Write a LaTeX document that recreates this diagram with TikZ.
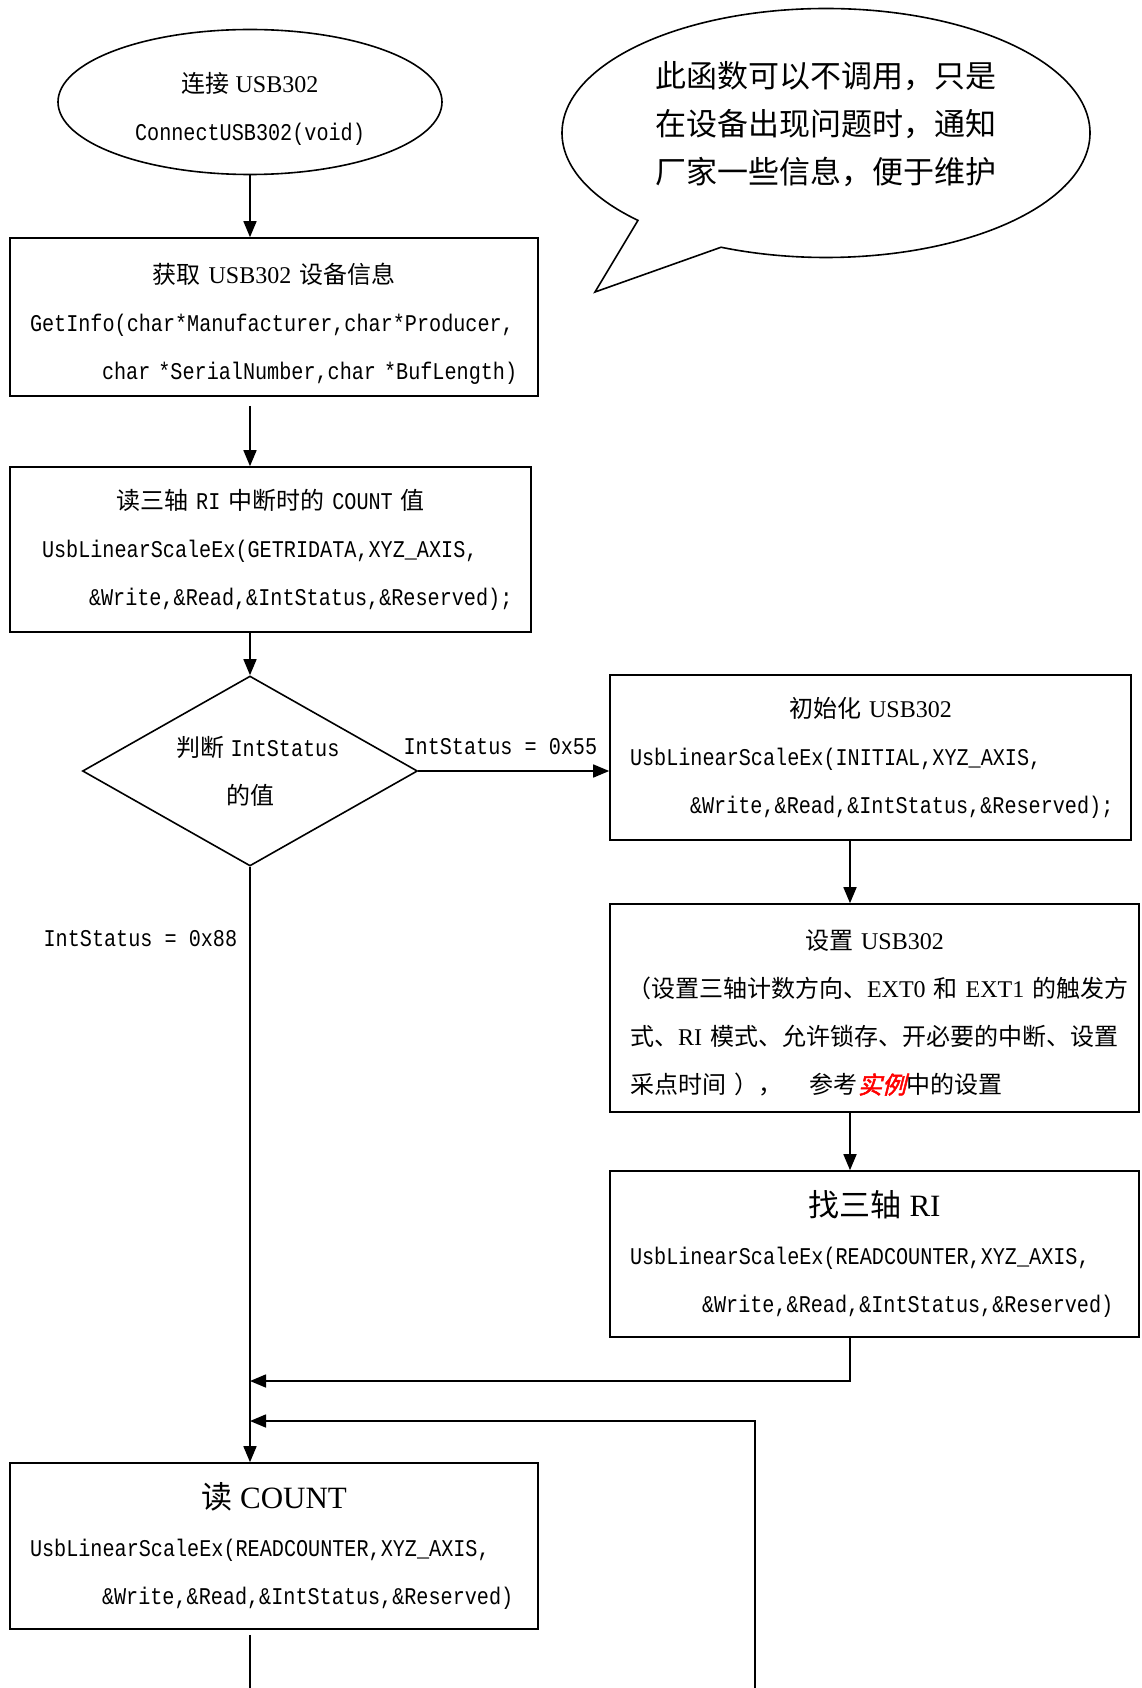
\documentclass[tikz,border=0pt]{standalone}
\usepackage{fontspec}
\setmainfont{Liberation Serif}
\newfontfamily\cjk{Noto Sans CJK SC}
\newfontfamily\cjkem[FakeSlant=0.25,FakeBold=2]{Noto Sans CJK SC}
\newfontfamily\code[FakeStretch=0.84]{Liberation Mono}
\usetikzlibrary{arrows.meta,shapes.geometric,shapes.callouts}
\newcommand{\zhtext}[1]{{\cjk #1}}
\newcommand{\codetext}[1]{{\code #1}}
\begin{document}
\begin{tikzpicture}[x=1pt, y=1pt, line width=1.6pt,
        >={Triangle[length=16pt,width=13pt]},
        every node/.style={font=\fontsize{24pt}{48pt}\selectfont},
        proc/.style={draw, rectangle, inner sep=0pt, align=left, text width=#1},
        term/.style={draw, ellipse, inner sep=0pt, align=center},
        cond/.style={draw, diamond, aspect=1.76, inner sep=0pt, align=center},
        lbl/.style={font=\fontsize{24pt}{24pt}\selectfont\code, inner sep=2pt}]
    \useasboundingbox (0,0) rectangle (1141,-1688);
    \node[term, minimum width=384pt, minimum height=145pt] (C) at (250,-102) {\rule{0pt}{34pt}\zhtext{连接} USB302\\\codetext{ConnectUSB302(void)}};
    \node[draw, ellipse callout, inner sep=0pt, minimum width=528pt, minimum height=249pt,
        callout absolute pointer={(595,-292)}, callout pointer arc=22, align=left, text depth=21pt,
        font=\fontsize{31pt}{48pt}\selectfont\cjk] (N) at (826,-133) {此函数可以不调用，只是\\在设备出现问题时，通知\\厂家一些信息，便于维护};
    \node[proc=528pt, minimum height=158pt] (G) at (274,-317) {\makebox[\linewidth]{\rule{0pt}{34pt}\zhtext{获取} USB302 \zhtext{设备信息}}\\
        \hspace*{20pt}\codetext{GetInfo(char*Manufacturer,char*Producer,}\\
        \hspace*{92pt}\codetext{char *SerialNumber,char *BufLength)}};
    \node[proc=521pt, minimum height=165pt] (R) at (270.5,-549.5) {\makebox[\linewidth]{\zhtext{读三轴} \codetext{RI} \zhtext{中断时的} \codetext{COUNT} \zhtext{值}}\\
        \hspace*{32pt}\codetext{UsbLinearScaleEx(GETRIDATA,XYZ\_AXIS,}\\
        \hspace*{79pt}\codetext{\&Write,\&Read,\&IntStatus,\&Reserved);}};
    \node[cond, minimum width=335pt, minimum height=190pt] (D) at (250,-771) {\hspace*{16pt}\zhtext{判断} \codetext{IntStatus}\\\zhtext{的值}};
    \node[proc=521pt, minimum height=165pt] (I) at (870.5,-757.5) {\makebox[\linewidth]{\zhtext{初始化} USB302}\\
        \hspace*{20pt}\codetext{UsbLinearScaleEx(INITIAL,XYZ\_AXIS,}\\
        \hspace*{80pt}\codetext{\&Write,\&Read,\&IntStatus,\&Reserved);}};
    \node[proc=529pt, minimum height=208pt] (S) at (874.5,-1008) {\makebox[\linewidth]{\rule{0pt}{30pt}\zhtext{设置} USB302}\\
        \hspace*{17pt}\zhtext{（设置三轴计数方向、}EXT0 \zhtext{和} EXT1 \zhtext{的触发方}\\
        \hspace*{20pt}\zhtext{式、}RI \zhtext{模式、允许锁存、开必要的中断、设置}\\
        \hspace*{20pt}\zhtext{采点时间} \zhtext{），}\hspace{28pt}\zhtext{参考}{\cjkem\color{red}实例}\zhtext{中的设置}};
    \node[proc=529pt, minimum height=166pt] (F) at (874.5,-1254) {\makebox[\linewidth]{\fontsize{31pt}{48pt}\selectfont\zhtext{找三轴} RI}\\
        \hspace*{20pt}\codetext{UsbLinearScaleEx(READCOUNTER,XYZ\_AXIS,}\\
        \hspace*{92pt}\codetext{\&Write,\&Read,\&IntStatus,\&Reserved)}};
    \node[proc=528pt, minimum height=166pt] (K) at (274,-1546) {\makebox[\linewidth]{\fontsize{31pt}{48pt}\selectfont\zhtext{读} COUNT}\\
        \hspace*{20pt}\codetext{UsbLinearScaleEx(READCOUNTER,XYZ\_AXIS,}\\
        \hspace*{92pt}\codetext{\&Write,\&Read,\&IntStatus,\&Reserved)}};
    \coordinate (X) at (850,-700);
    \coordinate (J1) at (D.south |- 0,-1381);
    \coordinate (J2) at (D.south |- 0,-1421);
    \coordinate (B) at (755,-1688);
    \coordinate (E) at (D.south |- 0,-1688);
    \draw[->] (C.south) -- (C.south |- G.north);
    \draw[->, shorten <=9pt] (C.south |- G.south) -- (C.south |- R.north);
    \draw[->] (C.south |- R.south) -- (D.north);
    \draw[->] (D.east) -- (D.east -| I.west) node[pos=0.43, above=13pt, lbl] {IntStatus = 0x55};
    \draw[->] (D.south) -- (D.south |- K.north) node[pos=0.12, left=10pt, lbl] {IntStatus = 0x88};
    \draw[->] (I.south -| X) -- (S.north -| X);
    \draw[->] (S.south -| X) -- (F.north -| X);
    \draw[->] (F.south -| X) |- (J1);
    \draw[->] (B) |- (J2);
    \draw[shorten <=5pt] (K.south -| D.south) -- (E);
\end{tikzpicture}
\end{document}
